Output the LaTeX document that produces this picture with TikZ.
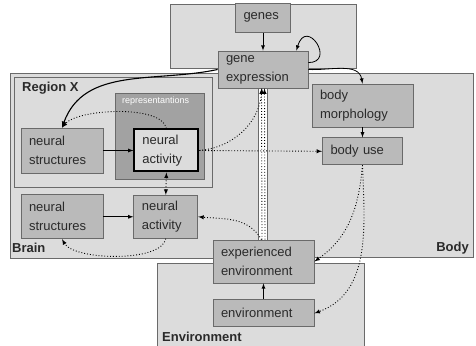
\documentclass[tikz,border=0pt]{standalone}
\usepackage{fontspec}
\setmainfont{Liberation Sans}
\usepackage{tikz}
\usetikzlibrary{positioning}

\definecolor{zonegray}{HTML}{DCDCDC}
\definecolor{boxgray}{HTML}{BABABA}
\definecolor{reprgray}{HTML}{A2A2A2}
\definecolor{linegray}{HTML}{6A6A6A}
\definecolor{inkgray}{HTML}{2A2A2A}

\begin{document}
\begin{tikzpicture}[x=1pt, y=1pt, >=latex, node distance=10pt,
  font=\fontsize{13}{19}\selectfont, text=inkgray,
  zone/.style={draw=linegray, fill=zonegray, line width=0.8pt},
  main node/.style={draw=linegray, fill=boxgray, line width=0.8pt, align=left,
    inner xsep=8pt, inner sep=0pt},
  zone label/.style={font=\fontsize{13}{15}\selectfont\bfseries, inner sep=0pt},
  dots/.style={dotted, line width=0.9pt},
  link/.style={line width=0.8pt}]

\useasboundingbox (0,0) rectangle (476,345);
\clip (0,0) rectangle (476,345);

% zones
\draw[zone] (170,277) rectangle (356,341);
\draw[zone] (10,87) rectangle (258,272);
\draw[zone] (267,88) rectangle (473,272);
\draw[zone] (157,-5) rectangle (364,82);
\draw[zone] (14,158) rectangle (212,268);
\draw[draw=linegray, fill=reprgray, line width=0.8pt] (115,166) rectangle (204,252);

\node[zone label, anchor=west] (regionx) at (22,257) {Region X};
\node[anchor=west, text=white, font=\fontsize{9}{11}\selectfont, inner sep=0pt] (repr) at (122,244) {representantions};
\node[zone label, anchor=west] (brain) at (12,97) {Brain};
\node[zone label, anchor=east] (body) at (469,97) {Body};
\node[zone label, anchor=west] (envlabel) at (162,8) {Environment};

% nodes
\node[main node, minimum width=90pt, minimum height=37pt, text width=74pt] (gx) at (263,275.5) {gene\\expression};
\node[main node, minimum width=55pt, minimum height=29pt, text width=39pt] (genes) [above=18pt of gx] {genes};
\node[main node, minimum width=101pt, minimum height=43pt, text width=85pt] (bm) at (362.5,239.5) {body\\morphology};
\node[main node, minimum width=80pt, minimum height=27pt, text width=64pt] (bu) [below=10pt of bm] {body use};
\node[main node, minimum width=82pt, minimum height=45pt, text width=66pt] (ns1) at (62,194.5) {neural\\structures};
\node[main node, fill=zonegray, draw=black, line width=2pt, minimum width=64pt, minimum height=42pt, text width=48pt] (na1) [right=30pt of ns1] {neural\\activity};
\node[main node, minimum width=82pt, minimum height=44pt, text width=66pt] (ns2) [below=21pt of ns1] {neural\\structures};
\node[main node, minimum width=64pt, minimum height=43pt, text width=48pt] (na2) [right=30pt of ns2] {neural\\activity};
\node[main node, minimum width=101pt, minimum height=43pt, text width=85pt] (ee) at (263.5,83.5) {experienced\\environment};
\node[main node, minimum width=101pt, minimum height=27pt, text width=85pt] (env) [below=16pt of ee] {environment};

% connections
\draw[->, link] (genes) -- (gx);
\draw[->, link] ([yshift=-12pt]gx.north east) .. controls +(28,0) and +(10,34) .. ([xshift=-12pt]gx.north east);
\draw[->, link] (gx.east) to[out=-3, in=100] (bm.north);
\draw[->, line width=1.1pt] (gx.west) to[out=192, in=70] (ns1.north);
\draw[->, link] (ns1) -- (na1);
\draw[->, dots] (na1.north) to[out=100, in=50, looseness=0.6] (ns1.north);
\draw[->, dots] (na1.east) -- (bu.west);
\draw[->, dots] (na1.east) to[out=5, in=265] ([xshift=-1pt]gx.south);
\draw[->, dots] ([xshift=-1.5pt]ee.north) -- ([xshift=-1.5pt]gx.south);
\draw[->, dots] ([xshift=1.5pt]ee.north) -- ([xshift=1.5pt]gx.south);
\draw[<->, dots] (na1.south) -- (na2.north);
\draw[->, link] (ns2) -- (na2);
\draw[->, dots] (na2.south) to[out=-100, in=-60, looseness=0.6] (ns2.south);
\draw[->, dots] ([xshift=-2pt]ee.north) to[out=120, in=-5] (na2.east);
\draw[->, link] (bm) -- (bu);
\draw[->, dots] (bu.south) to[out=-95, in=35] (ee.east);
\draw[->, dots] (bu.south) to[out=-88, in=20] (env.east);
\draw[->, link] (env) -- (ee);

\end{tikzpicture}
\end{document}
